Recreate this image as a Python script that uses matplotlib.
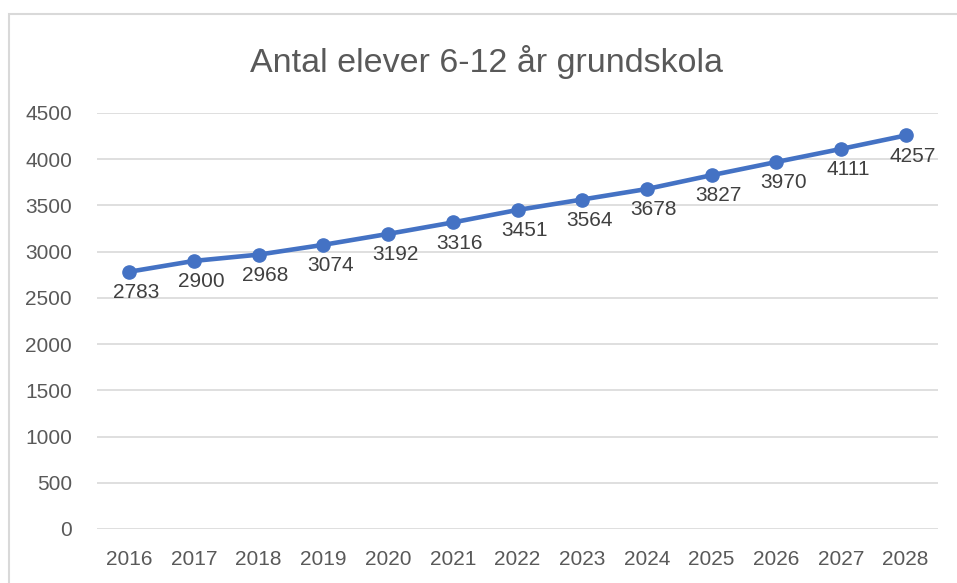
import matplotlib.pyplot as plt
from matplotlib.patches import Rectangle

# data
years = ['2016', '2017', '2018', '2019', '2020', '2021', '2022',
         '2023', '2024', '2025', '2026', '2027', '2028']
students = [2783, 2900, 2968, 3074, 3192, 3316, 3451,
            3564, 3678, 3827, 3970, 4111, 4257]
yticks = [0, 500, 1000, 1500, 2000, 2500, 3000, 3500, 4000, 4500]

plt.rcParams['font.family'] = ['Liberation Sans', 'DejaVu Sans']

W, H = 957, 583
fig = plt.figure(figsize=(W / 100, H / 100), dpi=100)
ax = fig.add_axes([97 / W, 1 - 529 / H, (938 - 97) / W, (529 - 113) / H])

# chart border (light gray frame, partly cut off right/bottom)
fig.patches.append(Rectangle((8.5 / W, -0.1), 1.2, 1.1 - 14.5 / H,
                             transform=fig.transFigure, fill=False,
                             edgecolor='#D9D9D9', linewidth=1.5))

x = list(range(len(years)))
ax.plot(x, students, color='#4472C4', linewidth=3.3, marker='o',
        markersize=9.5, zorder=3)

for xi, v in zip(x, students):
    ax.annotate(str(v), (xi, v), xytext=(5, -8), textcoords='offset points',
                ha='center', va='top', fontsize=15, color='#404040')

ax.set_xlim(-0.5, len(years) - 0.5)
ax.set_ylim(0, 4500)
ax.set_xticks(x)
ax.set_xticklabels(years)
ax.set_yticks(yticks)
ax.tick_params(axis='both', length=0, labelsize=15, labelcolor='#595959')
ax.tick_params(axis='x', pad=15)
ax.tick_params(axis='y', pad=18)
ax.grid(axis='y', color='#D9D9D9', linewidth=1.2)
ax.set_axisbelow(True)
for s in ax.spines.values():
    s.set_visible(False)

fig.text(487 / W, 1 - 62 / H, 'Antal elever 6-12 år grundskola',
         ha='center', va='center', fontsize=24.5, color='#595959')

fig.savefig('out.png', dpi=100)
